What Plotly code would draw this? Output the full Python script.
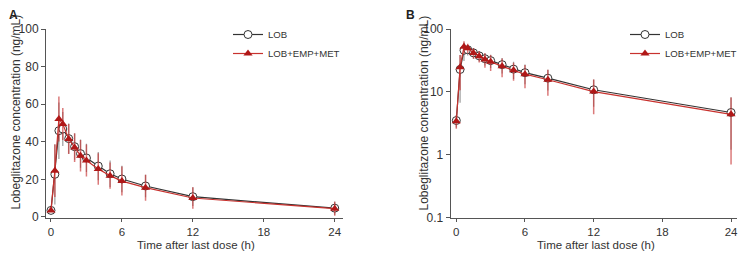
import plotly.graph_objects as go

time_h = [0, 0.33, 0.67, 1, 1.5, 2, 2.5, 3, 4, 5, 6, 8, 12, 24]
lob_mean = [3.5, 22.7, 45.9, 46.8, 41.7, 37.4, 33.7, 31.4, 27.1, 23.0, 20.2, 16.5, 10.8, 4.7]
lob_sd = [0.8, 16.0, 15.0, 9.0, 8.0, 7.0, 7.5, 7.5, 7.5, 7.0, 7.0, 6.0, 5.0, 3.5]
combo_mean = [3.4, 24.6, 52.1, 49.5, 41.5, 36.9, 32.6, 30.0, 25.5, 22.0, 19.1, 15.6, 10.1, 4.4]
combo_sd = [0.8, 14.0, 12.0, 8.5, 8.0, 7.6, 8.4, 8.5, 8.4, 7.0, 7.7, 6.9, 5.7, 3.7]

x_ticks = [0, 6, 12, 18, 24]
yA_ticks = [0, 20, 40, 60, 80, 100]
yB_ticks = [0.1, 1, 10, 100]
yB_labels = ["0.1", "1", "10", "100"]

names = ["LOB", "LOB+EMP+MET"]
black = "#333333"
red_line = "#c8322e"
red_mark = "#b01818"
red_err = "rgba(200,50,50,0.65)"
txt = "#333333"
FONT = "Arial, Liberation Sans, sans-serif"

fig = go.Figure()

for panel, (xa, ya, leg) in enumerate([("x", "y", "legend"), ("x2", "y2", "legend2")]):
    fig.add_trace(go.Scatter(
        x=time_h, y=lob_mean, name=names[0], mode="lines+markers",
        xaxis=xa, yaxis=ya, legend=leg,
        line=dict(color=black, width=1.2),
        marker=dict(symbol="circle", size=8, color="white", line=dict(color=black, width=1)),
        error_y=dict(type="data", array=lob_sd, color="rgba(60,60,60,0.5)", thickness=1.2, width=0),
    ))
    fig.add_trace(go.Scatter(
        x=time_h, y=combo_mean, name=names[1], mode="lines+markers",
        xaxis=xa, yaxis=ya, legend=leg,
        line=dict(color=red_line, width=1.2),
        marker=dict(symbol="triangle-up", size=8, color=red_mark, line=dict(width=0)),
        error_y=dict(type="data", array=combo_sd, color=red_err, thickness=1.5, width=0),
    ))

# page has an 8px body margin on every side; size the figure so the page does not overflow,
# and map reference page px -> figure paper fraction
OFF = 8
W, H = 747 - 2 * OFF, 259 - 2 * OFF
def fx(p):
    return (p - OFF) / W
def fy(p):
    return 1 - (p - OFF) / H
ydom = [fy(218.3), fy(29)]

axis_common = dict(
    showgrid=False, zeroline=False, showline=True, linecolor="#555555", linewidth=1,
    ticks="outside", tickcolor="#555555", automargin=False,
)
y_tick = dict(ticklen=4, tickfont=dict(family=FONT, size=12, color=txt))
x_tick = dict(ticklen=3, tickfont=dict(family=FONT, size=11.5, color=txt))

leg_font = dict(family=FONT, size=9.6, color=txt)
fig.update_layout(
    width=W, height=H,
    margin=dict(l=0, r=0, t=0, b=0, pad=0, autoexpand=False),
    paper_bgcolor="white", plot_bgcolor="white",
    font=dict(family=FONT, color=txt),
    xaxis=dict(domain=[fx(46), fx(343)], range=[-0.42, 24.7], tickvals=x_ticks, anchor="y",
               **axis_common, **x_tick),
    yaxis=dict(domain=ydom, range=[-0.7, 100], tickvals=yA_ticks, anchor="x", **axis_common, **y_tick),
    xaxis2=dict(domain=[fx(450.7), fx(737)], range=[-0.49, 24.52], tickvals=x_ticks, anchor="y2",
                **axis_common, **x_tick),
    yaxis2=dict(domain=ydom, type="log", range=[-1.011, 2], tickvals=yB_ticks, ticktext=yB_labels,
                anchor="x2", **axis_common, **y_tick),
    legend=dict(x=fx(228), y=fy(20), xanchor="left", yanchor="top", bgcolor="rgba(0,0,0,0)",
                font=leg_font, itemwidth=30),
    legend2=dict(x=fx(625), y=fy(20), xanchor="left", yanchor="top", bgcolor="rgba(0,0,0,0)",
                 font=leg_font, itemwidth=30),
    showlegend=True,
)

ytitle = "Lobeglitazone concentration (ng/mL)"
xtitle = "Time after last dose (h)"
ann = []
for xc in [15, 423]:
    ann.append(dict(text=ytitle, x=fx(xc), y=fy(112.5), xref="paper", yref="paper",
                    textangle=-90, showarrow=False, xanchor="center", yanchor="middle",
                    font=dict(family=FONT, size=12, color=txt)))
for xc in [196, 596]:
    ann.append(dict(text=xtitle, x=fx(xc), y=fy(244.5), xref="paper", yref="paper",
                    showarrow=False, xanchor="center", yanchor="middle", borderpad=0,
                    font=dict(family=FONT, size=11.5, color=txt)))
for lab, xc in [("A", 13), ("B", 410)]:
    ann.append(dict(text="<b>" + lab + "</b>", x=fx(xc), y=fy(15), xref="paper", yref="paper",
                    showarrow=False, xanchor="center", yanchor="middle",
                    font=dict(family=FONT, size=12, color="#222222")))
fig.update_layout(annotations=ann)

fig.write_html("out.html")
